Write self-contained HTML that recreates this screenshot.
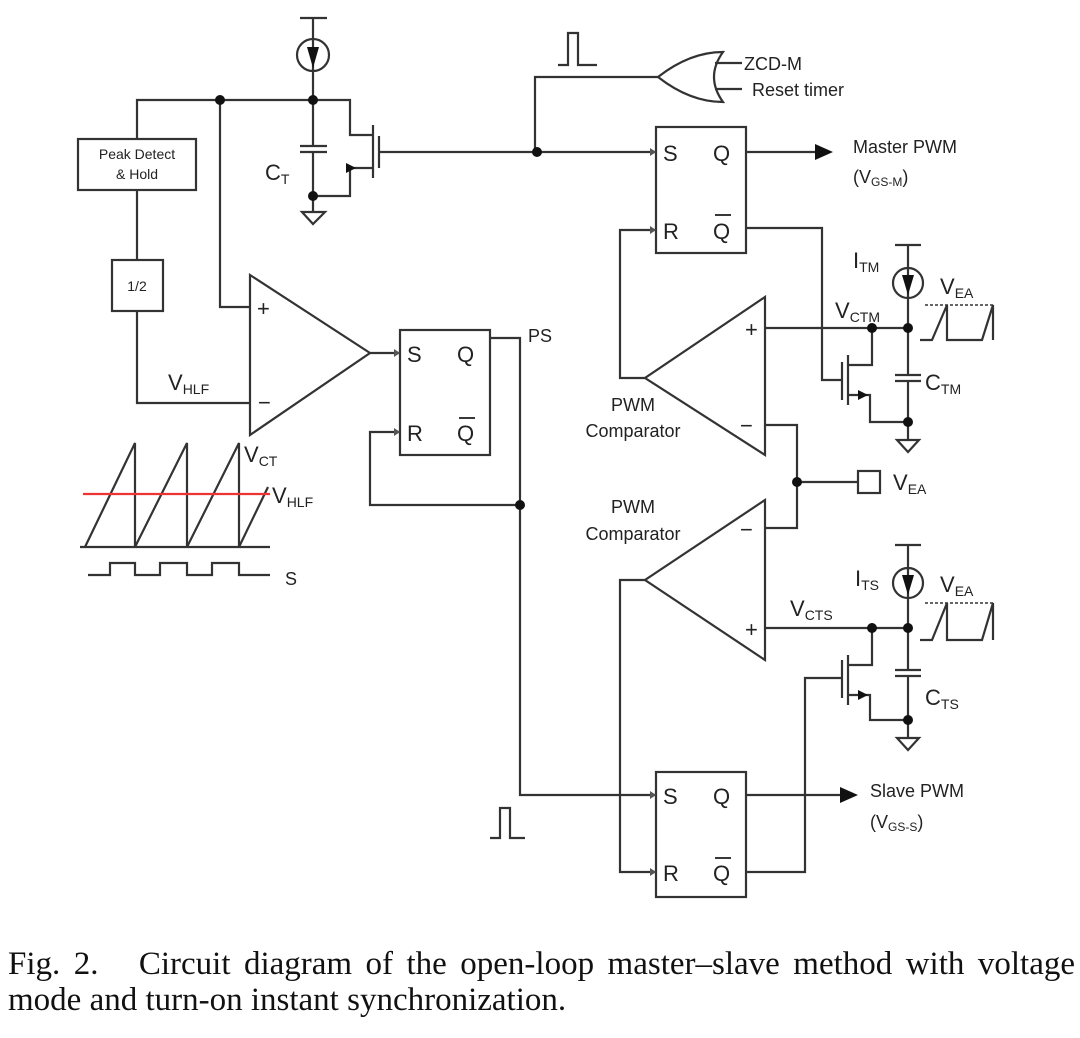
<!DOCTYPE html>
<html><head><meta charset="utf-8"><style>
body{margin:0;background:#fff;width:1080px;height:1038px;overflow:hidden;position:relative}
svg{display:block}
text{font-family:"Liberation Sans",sans-serif;fill:#222}
.cap{position:absolute;left:8px;width:1067px;font-family:"Liberation Serif",serif;font-size:33px;color:#111;line-height:36px;top:946px}
.cap .l1{text-align:justify;text-align-last:justify;white-space:nowrap}
</style></head><body>
<svg width="1080" height="1038" viewBox="0 0 1080 1038" xmlns="http://www.w3.org/2000/svg">
<g fill="none" stroke="#333" stroke-width="2.2">
<line x1="300" y1="18" x2="327" y2="18"/><line x1="313" y1="18" x2="313" y2="100"/>
<circle cx="313" cy="55" r="16"/>
<polyline points="137,139 137,100 350,100 350,135 372,135"/>
<line x1="313" y1="100" x2="313" y2="146"/><line x1="313" y1="152" x2="313" y2="212"/>
<line x1="300" y1="146" x2="327" y2="146"/><line x1="300" y1="152" x2="327" y2="152"/>
<polygon points="302,212 325,212 313,224"/>
<line x1="373" y1="125" x2="373" y2="178"/><line x1="379" y1="136" x2="379" y2="168"/>
<polyline points="372,168 350,168 350,196 313,196"/>
<line x1="379" y1="152" x2="656" y2="152"/>
<rect x="78" y="139" width="118" height="51"/>
<line x1="137" y1="190" x2="137" y2="260"/>
<rect x="112" y="260" width="51" height="51"/>
<polyline points="137,311 137,403 250,403"/>
<polyline points="220,100 220,307 250,307"/>
<polygon points="250,275 250,435 370,353"/>
<line x1="370" y1="353" x2="400" y2="353"/>
<rect x="400" y="330" width="90" height="125"/>
<polyline points="490,338 520,338 520,795 656,795"/>
<polyline points="400,432 370,432 370,505 520,505"/>
<polyline points="85,547 135,443 135,547 187,443 187,547 239,443 239,547 268,487"/>
<line x1="80" y1="547" x2="270" y2="547"/>
<polyline points="88,575 110,575 110,563 135,563 135,575 160,575 160,563 187,563 187,575 212,575 212,563 239,563 239,575 270,575"/>
<polyline points="558,65 568,65 568,33 578,33 578,65 597,65"/>
<polyline points="658,77 535,77 535,152"/>
<path d="M658,77 Q690,52 723,52 Q705,77 723,102 Q690,102 658,77Z"/>
<line x1="715" y1="63" x2="742" y2="63"/><line x1="715" y1="89" x2="742" y2="89"/>
<rect x="656" y="127" width="90" height="126"/>
<line x1="746" y1="152" x2="815" y2="152"/>
<polyline points="746,228 822,228 822,380 842,380"/>
<polyline points="656,230 620,230 620,378 645,378"/>
<polygon points="765,297 765,455 645,378"/>
<line x1="765" y1="328" x2="908" y2="328"/>
<polyline points="765,425 797,425 797,528 765,528"/>
<polyline points="797,482 858,482"/><rect x="858" y="471" width="22" height="22"/>
<line x1="895" y1="245" x2="921" y2="245"/><line x1="908" y1="245" x2="908" y2="375"/>
<circle cx="908" cy="283" r="15"/>
<line x1="895" y1="375" x2="921" y2="375"/><line x1="895" y1="381" x2="921" y2="381"/>
<line x1="908" y1="381" x2="908" y2="440"/><polygon points="897,440 919,440 908,452"/>
<line x1="848" y1="355" x2="848" y2="405"/><line x1="842" y1="362" x2="842" y2="400"/>
<polyline points="848,365 872,365 872,328"/><polyline points="848,395 870,395 870,422 908,422"/>
<polyline points="920,340 932,340 947,305 947,340 982,340 993,305 993,340"/>
<line x1="925" y1="305" x2="995" y2="305" stroke-dasharray="3,2" stroke-width="1.5"/>
<polygon points="765,500 765,660 645,580"/>
<line x1="765" y1="628" x2="908" y2="628"/>
<line x1="895" y1="545" x2="921" y2="545"/><line x1="908" y1="545" x2="908" y2="670"/>
<circle cx="908" cy="583" r="15"/>
<line x1="895" y1="670" x2="921" y2="670"/><line x1="895" y1="676" x2="921" y2="676"/>
<line x1="908" y1="676" x2="908" y2="738"/><polygon points="897,738 919,738 908,750"/>
<line x1="848" y1="655" x2="848" y2="705"/><line x1="842" y1="660" x2="842" y2="698"/>
<polyline points="848,665 872,665 872,628"/><polyline points="848,695 870,695 870,720 908,720"/>
<polyline points="920,640 932,640 947,603 947,640 982,640 993,603 993,640"/>
<line x1="925" y1="603" x2="995" y2="603" stroke-dasharray="3,2" stroke-width="1.5"/>
<rect x="656" y="772" width="90" height="125"/>
<line x1="746" y1="795" x2="840" y2="795"/>
<polyline points="746,872 805,872 805,678 842,678"/>
<polyline points="656,872 620,872 620,580 645,580"/>
<polyline points="490,838 500,838 500,808 510,808 510,838 525,838"/>
</g>
<line x1="83" y1="494" x2="270" y2="494" stroke="#e33" stroke-width="2.2"/>
<g fill="#111">
<polygon points="307,47 319,47 313,68"/><polygon points="902,275 914,275 908,295"/><polygon points="902,575 914,575 908,595"/>
<polygon points="356,168 346,163 346,173"/><polygon points="868,395 858,390 858,400"/><polygon points="868,695 858,690 858,700"/>
<polygon points="815,144 833,152 815,160"/><polygon points="840,787 858,795 840,803"/>
<circle cx="220" cy="100" r="5"/><circle cx="313" cy="100" r="5"/><circle cx="313" cy="196" r="5"/>
<circle cx="537" cy="152" r="5"/><circle cx="520" cy="505" r="5"/><circle cx="797" cy="482" r="5"/>
<circle cx="872" cy="328" r="5"/><circle cx="908" cy="328" r="5"/><circle cx="908" cy="422" r="5"/>
<circle cx="872" cy="628" r="5"/><circle cx="908" cy="628" r="5"/><circle cx="908" cy="720" r="5"/>
</g>
<g font-size="14"><text x="137" y="159" text-anchor="middle">Peak Detect</text><text x="137" y="179" text-anchor="middle">&amp; Hold</text><text x="137" y="291" text-anchor="middle">1/2</text></g>
<g font-size="22">
<text x="265" y="180">C<tspan font-size="14" dy="4">T</tspan></text>
<text x="257" y="316">+</text><text x="258" y="410">−</text>
<text x="168" y="390">V<tspan font-size="14" dy="4">HLF</tspan></text>
<text x="244" y="462">V<tspan font-size="14" dy="4">CT</tspan></text>
<text x="272" y="503">V<tspan font-size="14" dy="4">HLF</tspan></text>
<text x="285" y="585" font-size="18">S</text>
<text x="407" y="362">S</text><text x="457" y="362">Q</text><text x="407" y="441">R</text><text x="457" y="441">Q</text>
<text x="663" y="161">S</text><text x="713" y="161">Q</text><text x="663" y="239">R</text><text x="713" y="239">Q</text>
<text x="663" y="804">S</text><text x="713" y="804">Q</text><text x="663" y="881">R</text><text x="713" y="881">Q</text>
<text x="745" y="337">+</text><text x="740" y="433">−</text><text x="740" y="537">−</text><text x="745" y="637">+</text>
<text x="835" y="318">V<tspan font-size="14" dy="4">CTM</tspan></text>
<text x="790" y="616">V<tspan font-size="14" dy="4">CTS</tspan></text>
<text x="853" y="268">I<tspan font-size="14" dy="4">TM</tspan></text>
<text x="855" y="586">I<tspan font-size="14" dy="4">TS</tspan></text>
<text x="940" y="294">V<tspan font-size="14" dy="4">EA</tspan></text>
<text x="940" y="592">V<tspan font-size="14" dy="4">EA</tspan></text>
<text x="925" y="390">C<tspan font-size="14" dy="4">TM</tspan></text>
<text x="925" y="705">C<tspan font-size="14" dy="4">TS</tspan></text>
<text x="893" y="490">V<tspan font-size="14" dy="4">EA</tspan></text>
</g>
<g stroke="#222" stroke-width="1.8"><line x1="459" y1="418" x2="475" y2="418"/><line x1="715" y1="215" x2="731" y2="215"/><line x1="715" y1="858" x2="731" y2="858"/></g>
<g fill="#555"><polygon points="400,353 394,349 394,357"/><polygon points="656,152 650,148 650,156"/><polygon points="656,230 650,226 650,234"/><polygon points="400,432 394,428 394,436"/><polygon points="656,795 650,791 650,799"/><polygon points="656,872 650,868 650,876"/></g>
<g font-size="18">
<text x="528" y="342">PS</text>
<text x="744" y="70">ZCD-M</text><text x="752" y="96">Reset timer</text>
<text x="853" y="153">Master PWM</text><text x="853" y="183">(V<tspan font-size="12" dy="3">GS-M</tspan><tspan dy="-3">)</tspan></text>
<text x="870" y="797">Slave PWM</text><text x="870" y="828">(V<tspan font-size="12" dy="3">GS-S</tspan><tspan dy="-3">)</tspan></text>
<text x="633" y="411" text-anchor="middle">PWM</text><text x="633" y="437" text-anchor="middle">Comparator</text>
<text x="633" y="513" text-anchor="middle">PWM</text><text x="633" y="540" text-anchor="middle">Comparator</text>
</g>
</svg>
<div class="cap"><div class="l1">Fig. 2.&nbsp;&nbsp; Circuit diagram of the open-loop master–slave method with voltage</div><div>mode and turn-on instant synchronization.</div></div>
</body></html>
